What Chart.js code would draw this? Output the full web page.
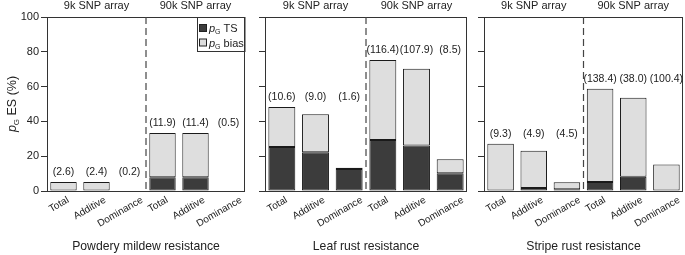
<!DOCTYPE html>
<html>
<head>
<meta charset="utf-8">
<script src="https://cdn.jsdelivr.net/npm/chart.js@4.4.1/dist/chart.umd.min.js"></script>
<style>
  html, body { margin: 0; padding: 0; background: #fff; }
  #wrap { position: relative; width: 685px; height: 255px; overflow: hidden; }
  canvas { position: absolute; top: 0; }
</style>
</head>
<body>
<div id="wrap">
  <canvas id="c1" width="250" height="255" style="left:0px"></canvas>
  <canvas id="c2" width="222" height="255" style="left:250px"></canvas>
  <canvas id="c3" width="214" height="255" style="left:471px"></canvas>
</div>
<script>
// Data
const arrays = ['9k SNP array', '90k SNP array'];
const components = ['Total', 'Additive', 'Dominance'];
const categories = [...components, ...components];
const traits = ['Powdery mildew resistance', 'Leaf rust resistance', 'Stripe rust resistance'];
const yTicks = [0, 20, 40, 60, 80, 100];

// p_G TS (dark) and p_G bias (light) in %, per panel
const pmTS   = [0, 0, 0, 7.9, 7.9, 0];
const pmBias = [5.2, 5.2, 0.3, 25.4, 25.4, 0.3];
const pmNums = ['(2.6)', '(2.4)', '(0.2)', '(11.9)', '(11.4)', '(0.5)'];

const lrTS   = [25.3, 22.2, 12.6, 29.3, 26.2, 10.2];
const lrBias = [23.0, 21.9, 0.8, 46.0, 44.1, 8.0];
const lrNums = ['(10.6)', '(9.0)', '(1.6)', '(116.4)', '(107.9)', '(8.5)'];

const srTS   = [0.3, 1.7, 1.0, 5.2, 8.2, 0];
const srBias = [26.9, 21.5, 4.0, 53.6, 45.4, 15.3];
const srNums = ['(9.3)', '(4.9)', '(4.5)', '(138.4)', '(38.0)', '(100.4)'];

const FONT = '"Liberation Sans", Arial, Helvetica, sans-serif';
const INK = '#222';
const DARK = '#3c3c3c';
const LIGHT = '#dedede';

// draw "p_G" + rest of label starting at x, baseline y
function drawPG(ctx, x, y, size, rest) {
  ctx.textAlign = 'left';
  ctx.textBaseline = 'alphabetic';
  ctx.font = 'italic ' + size + 'px ' + FONT;
  ctx.fillText('p', x, y);
  x += ctx.measureText('p').width;
  ctx.font = Math.round(size * 0.6) + 'px ' + FONT;
  ctx.fillText('G', x, y + size * 0.2);
  x += ctx.measureText('G').width;
  ctx.font = size + 'px ' + FONT;
  ctx.fillText(rest, x, y);
}
function pgWidth(ctx, size, rest) {
  ctx.font = 'italic ' + size + 'px ' + FONT;
  let w = ctx.measureText('p').width;
  ctx.font = Math.round(size * 0.6) + 'px ' + FONT;
  w += ctx.measureText('G').width;
  ctx.font = size + 'px ' + FONT;
  return w + ctx.measureText(rest).width;
}

const decor = {
  id: 'decor',
  afterDraw(chart) {
    const ctx = chart.ctx;
    const a = chart.chartArea;
    const x = chart.scales.x, y = chart.scales.y;
    const o = chart.options.plugins.decor;
    ctx.save();

    // frame
    ctx.strokeStyle = '#333';
    ctx.lineWidth = 1;
    ctx.strokeRect(Math.round(a.left) + 0.5, Math.round(a.top) + 0.5,
      Math.round(a.right - a.left) - 1, Math.round(a.bottom - a.top));

    // dashed divider between arrays
    const mid = (x.getPixelForValue(2) + x.getPixelForValue(3)) / 2;
    ctx.setLineDash([7, 4]);
    ctx.strokeStyle = '#444';
    ctx.lineWidth = 1.2;
    ctx.beginPath();
    ctx.moveTo(mid, a.top);
    ctx.lineTo(mid, a.bottom);
    ctx.stroke();
    ctx.setLineDash([]);

    // array headers
    ctx.fillStyle = INK;
    ctx.font = '11px ' + FONT;
    ctx.textAlign = 'center';
    ctx.textBaseline = 'middle';
    ctx.fillText(arrays[0], (a.left + mid) / 2, 6);
    ctx.fillText(arrays[1], (mid + a.right) / 2, 6);

    // numbers in brackets above each group
    ctx.font = '10.5px ' + FONT;
    const ts = chart.data.datasets[0].data, bias = chart.data.datasets[1].data;
    for (let g = 0; g < 2; g++) {
      let top = 0;
      for (let i = g * 3; i < g * 3 + 3; i++) top = Math.max(top, ts[i] + bias[i]);
      const py = y.getPixelForValue(top) - 10;
      for (let i = g * 3; i < g * 3 + 3; i++) {
        ctx.fillText(o.nums[i], x.getPixelForValue(i), py);
      }
    }

    // slanted category labels
    ctx.font = '10px ' + FONT;
    ctx.textAlign = 'right';
    ctx.textBaseline = 'top';
    chart.data.labels.forEach((lab, i) => {
      const w = ctx.measureText(lab).width;
      ctx.save();
      ctx.translate(x.getPixelForValue(i) + 0.27 * w - 3.5, a.bottom + 4);
      ctx.rotate(-Math.PI / 6);
      ctx.fillText(lab, 0, 0);
      ctx.restore();
    });

    if (o.first) {
      // legend
      const lx = 197, ly = a.top, lr = a.right;
      ctx.strokeStyle = '#333';
      ctx.lineWidth = 1;
      ctx.strokeRect(lx + 0.5, ly + 0.5, lr - lx - 0.5, 51 - ly);
      [[DARK, ' TS', 28], [LIGHT, ' bias', 42.5]].forEach(([c, t, cy]) => {
        ctx.fillStyle = c;
        ctx.fillRect(199.5, cy - 3.5, 7, 7);
        ctx.strokeStyle = '#222';
        ctx.strokeRect(199.5, cy - 3.5, 7, 7);
        ctx.fillStyle = INK;
        drawPG(ctx, 209, cy + 4, 11, t);
      });

      // y title
      ctx.translate(16, (a.top + a.bottom) / 2);
      ctx.rotate(-Math.PI / 2);
      const w = pgWidth(ctx, 12.5, ' ES (%)');
      drawPG(ctx, -w / 2, 0, 12.5, ' ES (%)');
    }
    ctx.restore();
  }
};

function makePanel(id, idx, ts, bias, nums, yWidth, padRight) {
  return new Chart(document.getElementById(id), {
    type: 'bar',
    data: {
      labels: categories,
      datasets: [
        { label: 'pG TS', data: ts, backgroundColor: DARK, borderColor: '#1a1a1a',
          borderWidth: 1, borderSkipped: false, barPercentage: 0.8, categoryPercentage: 1 },
        { label: 'pG bias', data: bias, backgroundColor: LIGHT, borderColor: '#1a1a1a',
          borderWidth: 1, borderSkipped: false, barPercentage: 0.8, categoryPercentage: 1 }
      ]
    },
    options: {
      responsive: false,
      animation: false,
      layout: { padding: { top: 17, right: padRight, left: 0, bottom: 0 } },
      plugins: {
        legend: { display: false },
        tooltip: { enabled: false },
        decor: { nums: nums, first: idx === 0 }
      },
      scales: {
        x: {
          stacked: true,
          grid: { display: false },
          border: { display: false },
          ticks: { display: false },
          title: { display: true, text: traits[idx], color: INK,
                   font: { family: FONT, size: 12.2 }, padding: { top: 0, bottom: 1 } },
          afterFit: s => { s.height = 64; }
        },
        y: {
          stacked: true,
          min: 0, max: 100,
          afterBuildTicks: s => { s.ticks = yTicks.map(v => ({ value: v })); },
          grid: { drawOnChartArea: false, drawTicks: true, tickLength: 6, color: '#333' },
          border: { display: true, color: '#333' },
          ticks: { padding: 2, color: INK, font: { family: FONT, size: 11 },
                   callback: v => idx === 0 ? v : '' },
          afterFit: s => { s.width = yWidth; }
        }
      }
    },
    plugins: [decor]
  });
}

makePanel('c1', 0, pmTS, pmBias, pmNums, 47, 5);
makePanel('c2', 1, lrTS, lrBias, lrNums, 15, 5);
makePanel('c3', 2, srTS, srBias, srNums, 13, 2);
</script>
</body>
</html>
